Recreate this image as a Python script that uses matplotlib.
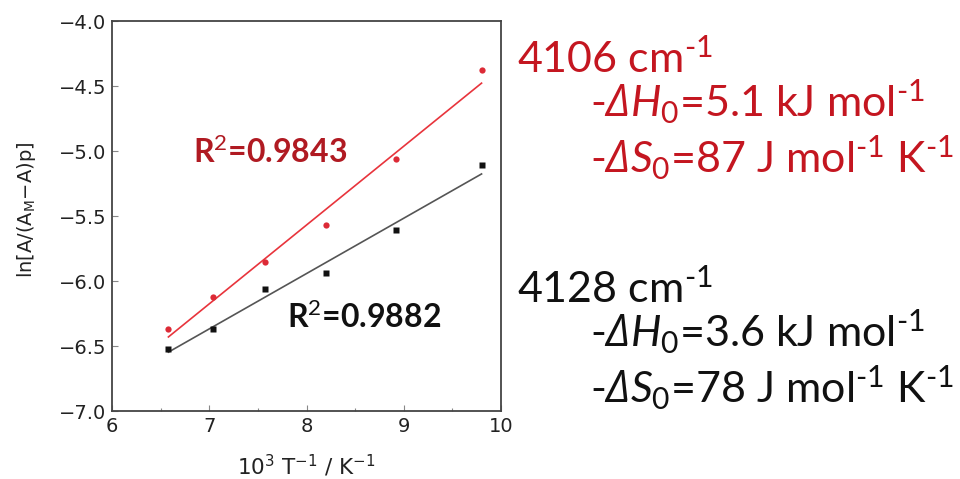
import numpy as np
import matplotlib
matplotlib.use("Agg")
import matplotlib.pyplot as plt
from matplotlib.ticker import MultipleLocator

# 10^3/T values and ln[A/(A_M - A)p] for the two bands
inv_T = [6.58, 7.04, 7.57, 8.20, 8.92, 9.80]
band_4106 = [-6.37, -6.12, -5.85, -5.57, -5.06, -4.38]
band_4128 = [-6.52, -6.37, -6.06, -5.94, -5.61, -5.11]

r2_4106 = "0.9843"
r2_4128 = "0.9882"

x_ticks = [6, 7, 8, 9, 10]
y_ticks = [-7.0, -6.5, -6.0, -5.5, -5.0, -4.5, -4.0]

RED_PT = "#dc2a36"
RED_LINE = "#e8343c"
RED_TXT = "#c41620"
RED_R2 = "#b01a22"
DELTA = "\u0394"
HYPH = "\u2010"

plt.rcParams["mathtext.fontset"] = "custom"
plt.rcParams["mathtext.rm"] = "Lato"
plt.rcParams["mathtext.it"] = "Lato:italic"
plt.rcParams["mathtext.bf"] = "Lato:bold"
plt.rcParams["mathtext.sf"] = "Open Sans:italic"

W, H = 960, 479
fig = plt.figure(figsize=(W / 100, H / 100), dpi=100)
ax = fig.add_axes([112 / W, 1 - 411 / H, (501 - 112) / W, (411 - 21) / H])

x = np.array(inv_T)
for y, pc, lc, mk, ms in [
    (np.array(band_4106), RED_PT, RED_LINE, "o", 4.5),
    (np.array(band_4128), "#111111", "#555555", "s", 4.5),
]:
    k, b = np.polyfit(x, y, 1)
    xs = np.array([x[0], x[-1]])
    ax.plot(xs, k * xs + b, color=lc, lw=1.2, zorder=2)
    ax.plot(x, y, ls="none", marker=mk, ms=ms, color=pc, mec="none", zorder=3)

ax.set_xlim(6, 10)
ax.set_ylim(-7.0, -4.0)
ax.set_xticks(x_ticks)
ax.set_yticks(y_ticks)
ax.xaxis.set_minor_locator(MultipleLocator(0.5))
ax.set_yticklabels([f"{v:.1f}".replace("-", "\u2212") for v in y_ticks])
ax.tick_params(which="both", direction="in", top=False, right=False,
               colors="#888888", labelcolor="#222222", labelsize=14, width=0.8)
ax.tick_params(which="major", length=4, pad=4)
ax.tick_params(which="minor", length=2.5)
for s in ax.spines.values():
    s.set_color("#444444")
    s.set_linewidth(1.3)

ax.set_xlabel(r"10$^{3}$ T$^{-1}$ / K$^{-1}$", fontsize=15.5, color="#222222",
              family="DejaVu Sans", math_fontfamily="dejavusans",
              va="center", ha="center")
ax.xaxis.set_label_coords((306 - 112) / 389, -(466 - 411) / 390)
ax.set_ylabel(r"ln[A/(A$_{\mathrm{M}}$$-$A)p]", fontsize=14, color="#222222",
              family="DejaVu Sans", math_fontfamily="dejavusans",
              va="center", ha="center")
ax.yaxis.set_label_coords(-(112 - 26) / 389, (411 - 210) / 390)

ax.text(193 / W, 1 - 163 / H, "R$^{2}$=" + r2_4106, transform=fig.transFigure,
        fontsize=23, fontweight="bold", family="Lato", color=RED_R2,
        va="baseline", ha="left")
ax.text(287 / W, 1 - 328 / H, "R$^{2}$=" + r2_4128, transform=fig.transFigure,
        fontsize=23, fontweight="bold", family="Lato", color="#111111",
        va="baseline", ha="left")


def sup1():
    return "$^{\\mathrm{" + HYPH + "1}}$"


def block(y0, color, wn, dh, ds):
    kw = dict(fontsize=31, family="Lato", color=color, va="baseline", ha="left")
    fig.text(517 / W, 1 - y0 / H, f"{wn} cm" + sup1(), **kw)
    fig.text(590 / W, 1 - (y0 + 44) / H,
             "-$\\mathsf{" + DELTA + "}\\mathit{H}_{\\mathrm{0}}$"
             + f"={dh} kJ mol" + sup1(), **kw)
    fig.text(590 / W, 1 - (y0 + 100) / H,
             "-$\\mathsf{" + DELTA + "}\\mathit{S}_{\\mathrm{0}}$"
             + f"={ds} J mol" + sup1() + " K" + sup1(), **kw)


block(73, RED_TXT, "4106", "5.1", "87")
block(303, "#111111", "4128", "3.6", "78")

fig.savefig("out.png", dpi=100, facecolor="white")
